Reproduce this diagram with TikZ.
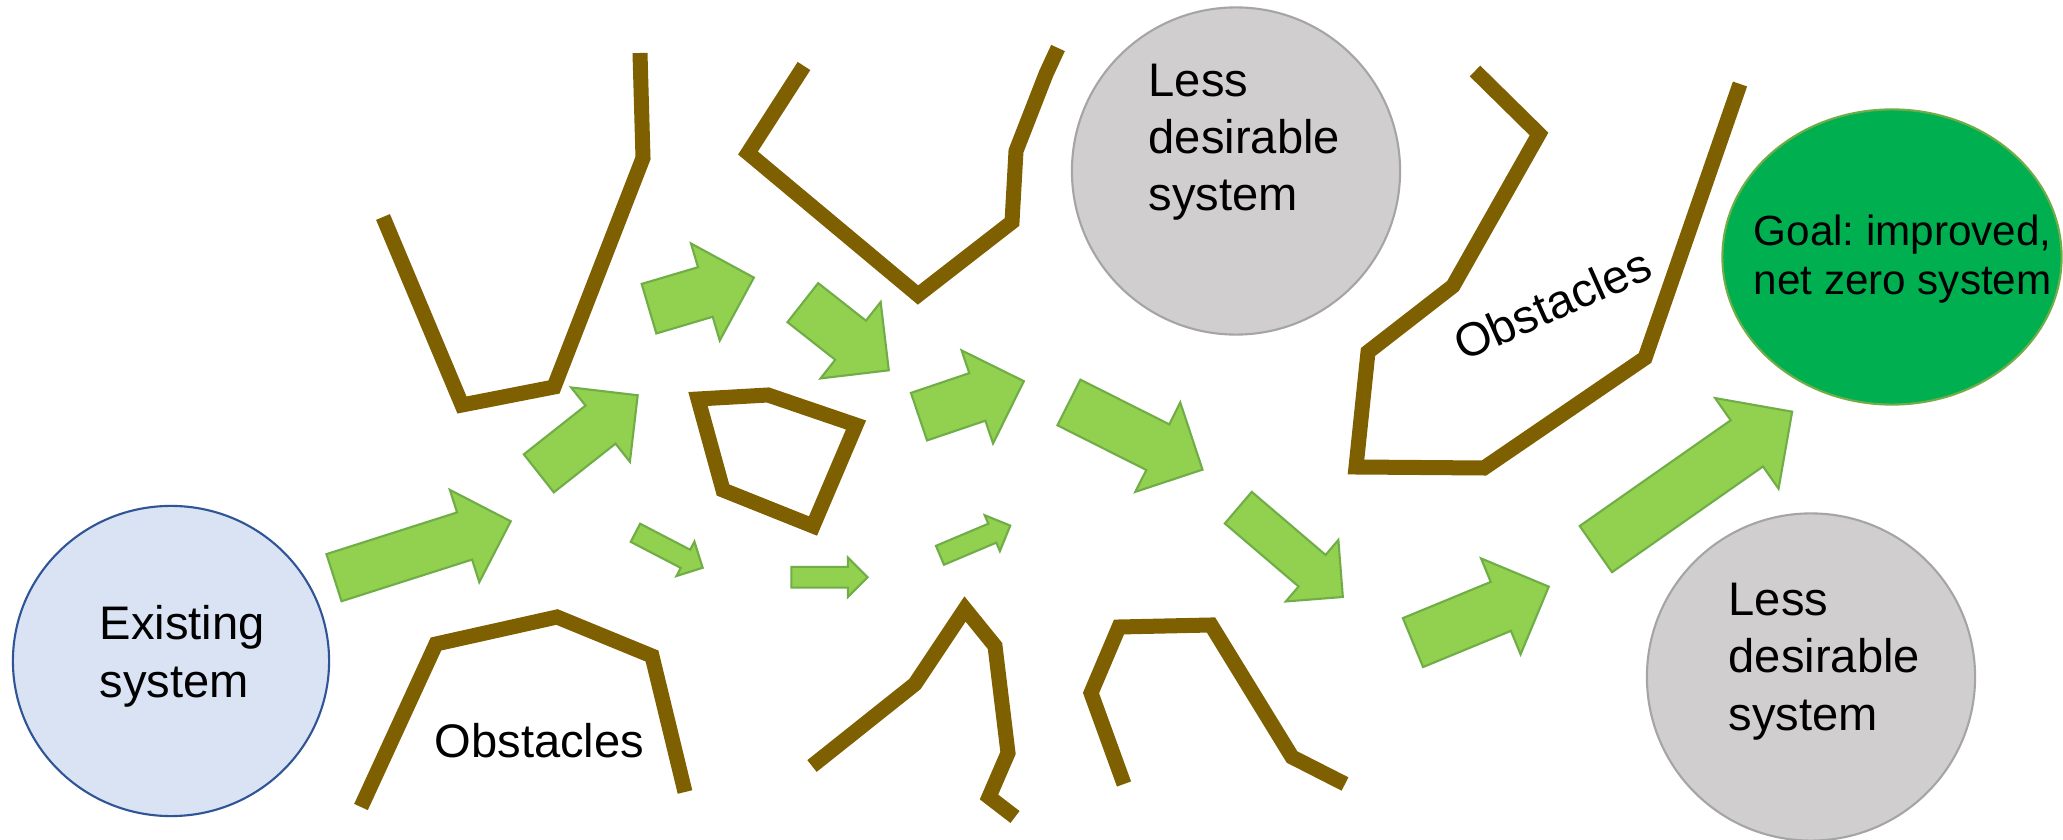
\documentclass[tikz,border=0pt]{standalone}
\usepackage{fontspec}
\setmainfont{Liberation Sans}
\usepackage{tikz}
\usetikzlibrary{shapes.geometric, shapes.arrows}
\frenchspacing
\definecolor{flowfill}{RGB}{146,208,80}
\definecolor{flowline}{RGB}{112,173,71}
\definecolor{barrier}{RGB}{127,96,0}
\definecolor{nowfill}{RGB}{218,227,243}
\definecolor{nowline}{RGB}{47,85,151}
\definecolor{sidefill}{RGB}{208,206,206}
\definecolor{sideline}{RGB}{165,165,165}
\definecolor{goalfill}{RGB}{0,176,80}
\tikzstyle{system} = [ellipse, inner sep=0pt, line width=0.6pt]
\tikzstyle{systext} = [anchor=base west, align=left, inner sep=0pt, font=\fontsize{13.4}{16.3}\selectfont]
\tikzstyle{obstacle} = [draw=barrier, line width=0.15cm, line join=miter]
\tikzstyle{flow} = [single arrow, single arrow tip angle=90, fill=flowfill, draw=flowline, line width=0.6pt, inner xsep=0pt, anchor=tail]
\tikzset{
	flow size/.style 2 args={minimum height=#1*0.01cm, minimum width=#2*0.01cm, inner ysep=#2*0.0025cm, single arrow head extend=#2*0.0025cm},
}

\begin{document}
\begin{tikzpicture}[x=0.01cm, y=-0.01cm]
	\useasboundingbox (0,0) rectangle (2063,840);
	\fill[white] (0,0) rectangle (2063,840);
	
	% Systems (text placed by the baseline of its last line)
	\node (existing) [system, fill=nowfill, draw=nowline, minimum width=3.16cm, minimum height=3.10cm] at (171,661) {};
	\node (existingtext) [systext] at (99,697) {Existing\\system};
	\node (sideA) [system, fill=sidefill, draw=sideline, minimum width=3.28cm, minimum height=3.27cm] at (1236,171) {};
	\node (sideAtext) [systext] at (1148,211) {Less\\desirable\\system};
	\node (goal) [system, fill=goalfill, draw=flowline, minimum width=3.39cm, minimum height=2.95cm] at (1892,257) {};
	\node (goaltext) [systext, font=\fontsize{12}{14.2}\selectfont] at (1753,295) {Goal: improved,\\net zero system};
	\node (sideB) [system, fill=sidefill, draw=sideline, minimum width=3.28cm, minimum height=3.27cm] at (1811,677) {};
	\node (sideBtext) [systext] at (1728,730) {Less\\desirable\\system};
	
	% Obstacles
	\draw [obstacle] (383,217) -- (462,405) -- (554,387) -- (643,158) -- (640,53);
	\draw [obstacle] (804,66) -- (748,153) -- (918,295) -- (1012,222) -- (1016,151) -- (1046,74) -- (1058,48);
	\draw [obstacle] (698,399) -- (768,395) -- (856,425) -- (813,526) -- (723,490) -- cycle;
	\draw [obstacle] (361,807) -- (436,644) -- (557,617) -- (652,656) -- (685,792);
	\draw [obstacle] (812,766) -- (915,684) -- (965,609) -- (995,646) -- (1008,753) -- (989,797) -- (1015,817);
	\draw [obstacle] (1124,784) -- (1091,693) -- (1119,627) -- (1211,625) -- (1292,757) -- (1345,784);
	\draw [obstacle] (1475,71) -- (1539,134) -- (1453,286) -- (1368,352) -- (1356,467) -- (1484,468) -- (1645,358) -- (1740,84);
	\node (obsA) [systext] at (434,757) {Obstacles};
	\node (obsB) [inner sep=0pt, rotate=24, font=\fontsize{13.4}{16.3}\selectfont] at (1552,304) {Obstacles};
	
	% Arrows
	\node (a1) [flow, flow size={185.5}{94.6}, rotate=17.7] at (333,578) {};
	\node (a2) [flow, flow size={126}{92.5}, rotate=38.3] at (538,474) {};
	\node (a3) [flow, flow size={109.4}{99}, rotate=16.5] at (648,309) {};
	\node (a4) [flow, flow size={109.4}{95}, rotate=-38.2] at (802,302) {};
	\node (a5) [flow, flow size={110.7}{96}, rotate=18.7] at (918,417) {};
	\node (a6) [flow, flow size={75.8}{36.6}, rotate=-27.5] at (634.5,532.3) {};
	\node (a7) [flow, flow size={76.3}{37.3}] at (790.3,577.3) {};
	\node (a8) [flow, flow size={76.3}{36.8}, rotate=22.9] at (939,555.7) {};
	\node (a9) [flow, flow size={149.5}{97.8}, rotate=-26.7] at (1068,402) {};
	\node (a10) [flow, flow size={137.5}{78.7}, rotate=-40.5] at (1237.5,507) {};
	\node (a11) [flow, flow size={146.9}{101.5}, rotate=22.4] at (1412,643) {};
	\node (a12) [flow, flow size={239.6}{108.3}, rotate=35] at (1595,549.7) {};
	
\end{tikzpicture}
\end{document}
